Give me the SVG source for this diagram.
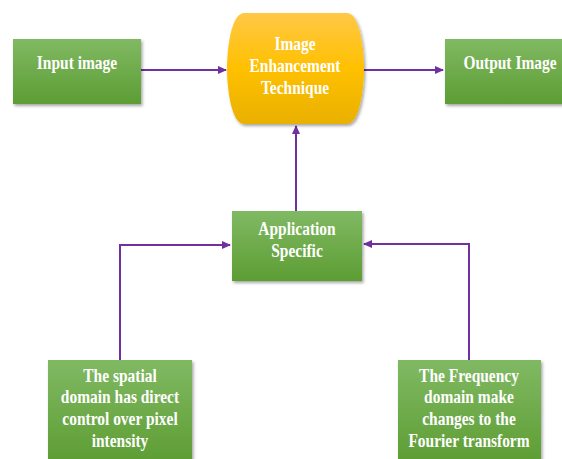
<svg xmlns="http://www.w3.org/2000/svg" width="562" height="459" viewBox="0 0 562 459">
<defs>
<linearGradient id="g" x1="0" y1="0" x2="0" y2="1">
<stop offset="0" stop-color="#80b963"/>
<stop offset="1" stop-color="#5d9d33"/>
</linearGradient>
<linearGradient id="y" x1="0" y1="0" x2="0" y2="1">
<stop offset="0" stop-color="#ffc846"/>
<stop offset="0.5" stop-color="#ffc000"/>
<stop offset="1" stop-color="#e9b000"/>
</linearGradient>
<filter id="sh" x="-10%" y="-10%" width="125%" height="125%">
<feDropShadow dx="1.5" dy="2" stdDeviation="1.5" flood-color="#000" flood-opacity="0.35"/>
</filter>
<marker id="ar" markerWidth="9" markerHeight="9" refX="8" refY="4.5" orient="auto" markerUnits="userSpaceOnUse">
<path d="M0,0.5 L9,4.5 L0,8.5 Z" fill="#7030a0"/>
</marker>
<style>
.box{fill:url(#g);filter:url(#sh);}
.t{font-family:'Liberation Serif','Times New Roman',serif;font-weight:bold;font-size:18px;fill:#fff;text-anchor:middle;}
.c{fill:none;stroke:#7030a0;stroke-width:2;}
</style>
</defs>
<g id="connectors">
<path class="c" d="M141 70 H226" marker-end="url(#ar)"/>
<path class="c" d="M363 70 H443" marker-end="url(#ar)"/>
<path class="c" d="M296 211 V126" marker-end="url(#ar)"/>
<path class="c" d="M120 360 V245 H230" marker-end="url(#ar)"/>
<path class="c" d="M469 360 V244 H364" marker-end="url(#ar)"/>
</g>
<g id="input">
<rect class="box" x="13" y="39" width="128" height="65"/>
<g transform="translate(77 0) scale(0.86 1)"><text class="t" x="0" y="69">Input image</text></g>
</g>
<g id="enhancement">
<path d="M244 13 H347 C360 13 364 50 364 68 C364 87 360 124 347 124 H244 C231 124 227 87 227 68 C227 50 231 13 244 13 Z" fill="url(#y)" filter="url(#sh)"/>
<g transform="translate(295 0) scale(0.86 1)">
<text class="t" x="0" y="50">Image</text>
<text class="t" x="0" y="72">Enhancement</text>
<text class="t" x="0" y="94">Technique</text>
</g>
</g>
<g id="output">
<rect class="box" x="445" y="39" width="124" height="65"/>
<g transform="translate(510 0) scale(0.86 1)"><text class="t" x="0" y="69">Output Image</text></g>
</g>
<g id="application">
<rect class="box" x="232" y="211" width="130" height="70"/>
<g transform="translate(297 0) scale(0.86 1)">
<text class="t" x="0" y="235">Application</text>
<text class="t" x="0" y="257">Specific</text>
</g>
</g>
<g id="spatial">
<rect class="box" x="48" y="360" width="144" height="104"/>
<g transform="translate(120 0) scale(0.86 1)">
<text class="t" x="0" y="382">The spatial</text>
<text class="t" x="0" y="403">domain has direct</text>
<text class="t" x="0" y="425">control over pixel</text>
<text class="t" x="0" y="447">intensity</text>
</g>
</g>
<g id="frequency">
<rect class="box" x="398" y="360" width="143" height="104"/>
<g transform="translate(469 0) scale(0.86 1)">
<text class="t" x="0" y="382">The Frequency</text>
<text class="t" x="0" y="403">domain make</text>
<text class="t" x="0" y="425">changes to the</text>
<text class="t" x="0" y="447">Fourier transform</text>
</g>
</g>
</svg>
